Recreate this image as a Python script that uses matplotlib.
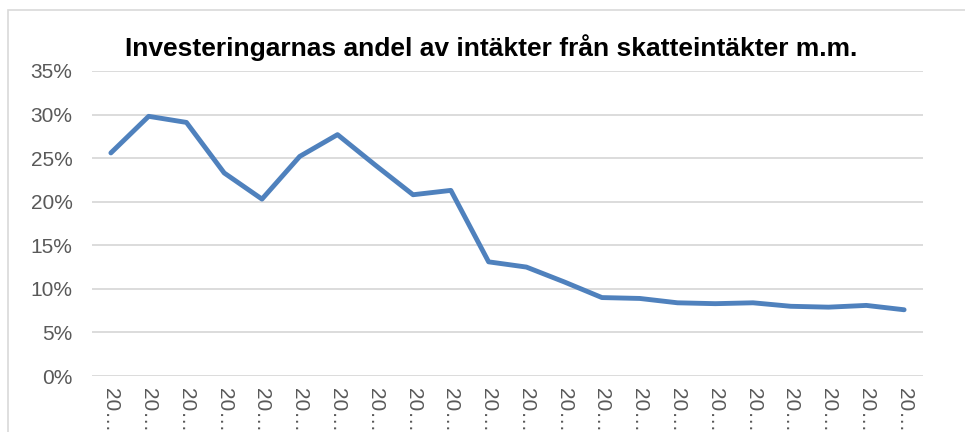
import matplotlib
matplotlib.use("Agg")
import matplotlib.pyplot as plt
from matplotlib.patches import Rectangle
from matplotlib.ticker import FuncFormatter

title = "Investeringarnas andel av intäkter från skatteintäkter m.m."
x_labels = ["20…"] * 22
values = [25.6, 29.8, 29.1, 23.3, 20.3, 25.2, 27.7, 24.2, 20.8, 21.3, 13.1,
          12.5, 10.8, 9.0, 8.9, 8.4, 8.3, 8.4, 8.0, 7.9, 8.1, 7.6]
y_ticks = [0, 5, 10, 15, 20, 25, 30, 35]

plt.rcParams['font.family'] = ['Liberation Sans', 'DejaVu Sans']

W, H = 965, 432
fig = plt.figure(figsize=(W / 100, H / 100), dpi=100)
fig.patch.set_facecolor('white')

# outer chart border
fig.patches.append(Rectangle((8 / W, -0.1), 1.2, 1 - 10 / H + 0.1,
                             transform=fig.transFigure, fill=False,
                             edgecolor='#d9d9d9', linewidth=1.2))

left, right, top, bottom = 92, 923, 71, 376
ax = fig.add_axes([left / W, 1 - bottom / H, (right - left) / W, (bottom - top) / H])

xs = list(range(len(values)))
ax.plot(xs, values, color='#4f81bd', linewidth=3.5, solid_capstyle='round',
        solid_joinstyle='round', zorder=3)

ax.set_xlim(-0.5, len(values) - 0.5)
ax.set_ylim(0, 35)
ax.set_yticks(y_ticks)
ax.yaxis.set_major_formatter(FuncFormatter(lambda v, p: f"{int(v)}%"))
ax.set_xticks(xs)
ax.set_xticklabels(x_labels, rotation=270, fontsize=15, color='#595959')
ax.tick_params(axis='y', labelsize=15, colors='#595959', length=0, pad=14)
ax.tick_params(axis='x', length=0, pad=9)
ax.grid(axis='y', color='#d9d9d9', linewidth=1.3)
ax.set_axisbelow(True)
for s in ax.spines.values():
    s.set_visible(False)

fig.text(491 / W, 1 - 48 / H, title, ha='center', va='center',
         fontsize=19, fontweight='bold', color='black')

fig.savefig("out.png", dpi=100)
